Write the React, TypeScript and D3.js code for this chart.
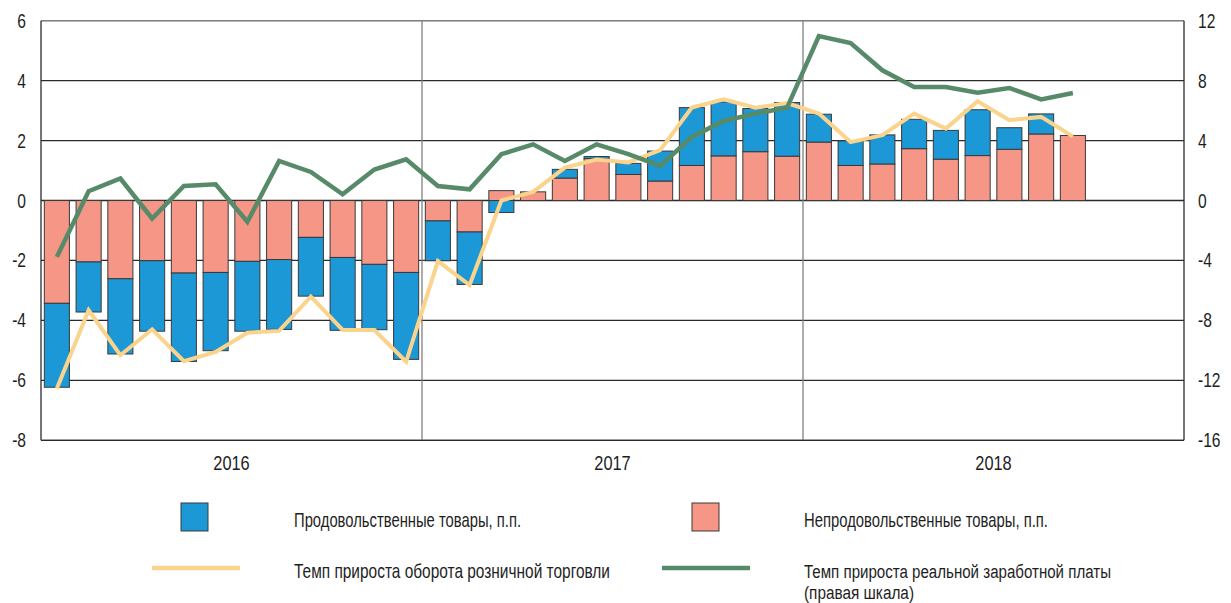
import React from "react";
import * as d3 from "d3";

const years = ["2016", "2017", "2018"];
const monthsCount = 36;
// Non-food goods contribution, p.p. (Jan 2016 .. Sep 2018)
const nonFood = [
  -3.43, -2.05, -2.61, -2.01, -2.42, -2.4, -2.03, -1.97, -1.23, -1.9, -2.13, -2.4,
  -0.68, -1.05, 0.33, 0.29, 0.75, 1.4, 0.87, 0.65, 1.17, 1.49, 1.63, 1.48,
  1.95, 1.17, 1.22, 1.73, 1.38, 1.5, 1.71, 2.22, 2.17,
];
// Food goods contribution, p.p.
const food = [
  -2.8, -1.67, -2.51, -2.35, -2.95, -2.61, -2.33, -2.33, -1.96, -2.43, -2.18, -2.9,
  -1.33, -1.75, -0.4, 0.0, 0.29, 0.07, 0.37, 1.0, 1.93, 1.8, 1.44, 1.79,
  0.93, 0.82, 0.97, 0.98, 0.96, 1.53, 0.72, 0.67, 0.0,
];
// Retail turnover growth rate, %
const retail = [
  -6.27, -3.66, -5.16, -4.3, -5.36, -5.05, -4.41, -4.35, -3.21, -4.32, -4.32, -5.38,
  -2.02, -2.82, 0.0, 0.29, 1.1, 1.37, 1.27, 1.68, 3.1, 3.38, 3.1, 3.25,
  2.9, 1.95, 2.18, 2.9, 2.4, 3.31, 2.68, 2.79, 2.14,
];
// Real wage growth rate, % (right axis)
const wages = [
  -3.76, 0.62, 1.47, -1.2, 0.97, 1.09, -1.42, 2.64, 1.91, 0.42, 2.07, 2.75,
  0.97, 0.75, 3.09, 3.75, 2.64, 3.75, 3.09, 2.31, 4.24, 5.31, 5.8, 6.2,
  10.97, 10.51, 8.69, 7.57, 7.57, 7.2, 7.51, 6.75, 7.17,
];
const leftTicks = [-8, -6, -4, -2, 0, 2, 4, 6];
const rightTicks = [-16, -12, -8, -4, 0, 4, 8, 12];

const legendFood = "Продовольственные товары, п.п.";
const legendNonFood = "Непродовольственные товары, п.п.";
const legendRetail = "Темп прироста оборота розничной торговли";
const legendWages1 = "Темп прироста реальной заработной платы";
const legendWages2 = "(правая шкала)";

const W = 1231;
const H = 603;
const L = 41;
const R = 1184;
const T = 20.7;
const B = 440.3;

const FONT = "'Liberation Sans', Arial, sans-serif";
const BLUE = "#1b98d5";
const PINK = "#f59686";
const YELLOW = "#fad38c";
const GREEN = "#578a68";
const TEXT = "#1e1e1e";

function NText(props: { x: number; y: number; size: number; sx: number; anchor?: string; children: any }) {
  const { x, y, size, sx, anchor, children } = props;
  return (
    <g transform={`translate(${x},${y}) scale(${sx},1)`}>
      <text x={0} y={0} fontSize={size} textAnchor={anchor || "start"} fill={TEXT}>
        {children}
      </text>
    </g>
  );
}

function LText(props: { x: number; y: number; w: number; size?: number; children: any }) {
  return (
    <text x={props.x} y={props.y} fontSize={props.size || 21} fill={TEXT} textLength={props.w} lengthAdjust="spacingAndGlyphs">
      {props.children}
    </text>
  );
}

export default function App() {
  const x = d3.scaleBand<number>().domain(d3.range(monthsCount)).range([L, R]).paddingInner(0.21).paddingOuter(0.105);
  const step = x.step();
  const cx = (i: number) => (x(i) as number) + x.bandwidth() / 2;
  const yL = d3.scaleLinear().domain([-8, 6]).range([B, T]);
  const yR = d3.scaleLinear().domain([-16, 12]).range([B, T]);

  const rows = nonFood.map((nf, i) => ({ i, nonFood: nf, food: food[i] }));
  const stack = d3.stack<any>().keys(["nonFood", "food"]).offset(d3.stackOffsetDiverging);
  const series = stack(rows);
  const colors: Record<string, string> = { nonFood: PINK, food: BLUE };

  const retailLine = d3.line<number>().x((_, i) => cx(i)).y((d) => yL(d));
  const wageLine = d3.line<number>().x((_, i) => cx(i)).y((d) => yR(d));

  const yearX = (k: number) => L + k * 12 * step;

  return (
    <svg width={W} height={H} style={{ position: "absolute", left: 0, top: 0, fontFamily: FONT }}>
      <rect x={0} y={0} width={W} height={H} fill="#fff" />
      {/* grid */}
      {leftTicks.map((t) => (
        <line key={t} x1={L} x2={R} y1={yL(t)} y2={yL(t)} stroke="#2b2b2b" strokeWidth={t === 0 ? 1.6 : 1.2} />
      ))}
      {[1, 2].map((k) => (
        <line key={k} x1={yearX(k)} x2={yearX(k)} y1={T} y2={B} stroke="#808080" strokeWidth={1.3} />
      ))}
      {/* bars */}
      {series.map((s) =>
        s.map((d, i) => {
          const v0 = d[0];
          const v1 = d[1];
          if (Math.abs(v1 - v0) < 1e-9) return null;
          const y0 = yL(Math.max(v0, v1));
          const y1 = yL(Math.min(v0, v1));
          return (
            <rect
              key={s.key + i}
              x={x(i)}
              y={y0}
              width={x.bandwidth()}
              height={y1 - y0}
              fill={colors[s.key]}
              stroke="#3a3a3a"
              strokeWidth={1}
            />
          );
        })
      )}
      {/* lines */}
      <path d={retailLine(retail) || ""} fill="none" stroke={YELLOW} strokeWidth={4} strokeLinejoin="miter" />
      <path d={wageLine(wages) || ""} fill="none" stroke={GREEN} strokeWidth={4.5} strokeLinejoin="miter" />
      {/* frame */}
      <line x1={L} x2={R} y1={T} y2={T} stroke="#808080" strokeWidth={1.3} />
      <line x1={L} x2={L} y1={T} y2={B} stroke="#2b2b2b" strokeWidth={1.3} />
      <line x1={R} x2={R} y1={T} y2={B} stroke="#2b2b2b" strokeWidth={1.3} />
      <line x1={L} x2={R} y1={B} y2={B} stroke="#2b2b2b" strokeWidth={1.3} />
      {/* axis labels */}
      {leftTicks.map((t) => (
        <NText key={t} x={26} y={yL(t) + 7} size={20} sx={0.78} anchor="end">
          {t}
        </NText>
      ))}
      {rightTicks.map((t) => (
        <NText key={t} x={1198} y={yR(t) + 7} size={20} sx={0.78} anchor="start">
          {t}
        </NText>
      ))}
      {years.map((yr, k) => (
        <NText key={yr} x={yearX(k) + 6 * step} y={470} size={21} sx={0.78} anchor="middle">
          {yr}
        </NText>
      ))}
      {/* legend */}
      <rect x={181} y={503} width={27} height={28} fill={BLUE} stroke="#3a3a3a" strokeWidth={1} />
      <LText x={294} y={526.7} w={227}>{legendFood}</LText>
      <rect x={692} y={503} width={27} height={28} fill={PINK} stroke="#3a3a3a" strokeWidth={1} />
      <LText x={804} y={526.7} w={244}>{legendNonFood}</LText>
      <line x1={152} x2={240} y1={568} y2={568} stroke={YELLOW} strokeWidth={4.5} />
      <LText x={294} y={578.3} w={316}>{legendRetail}</LText>
      <line x1={662} x2={750} y1={568} y2={568} stroke={GREEN} strokeWidth={4.5} />
      <LText x={804} y={577.5} w={307} size={18.8}>{legendWages1}</LText>
      <LText x={804} y={598.5} w={110} size={18.8}>{legendWages2}</LText>
    </svg>
  );
}
